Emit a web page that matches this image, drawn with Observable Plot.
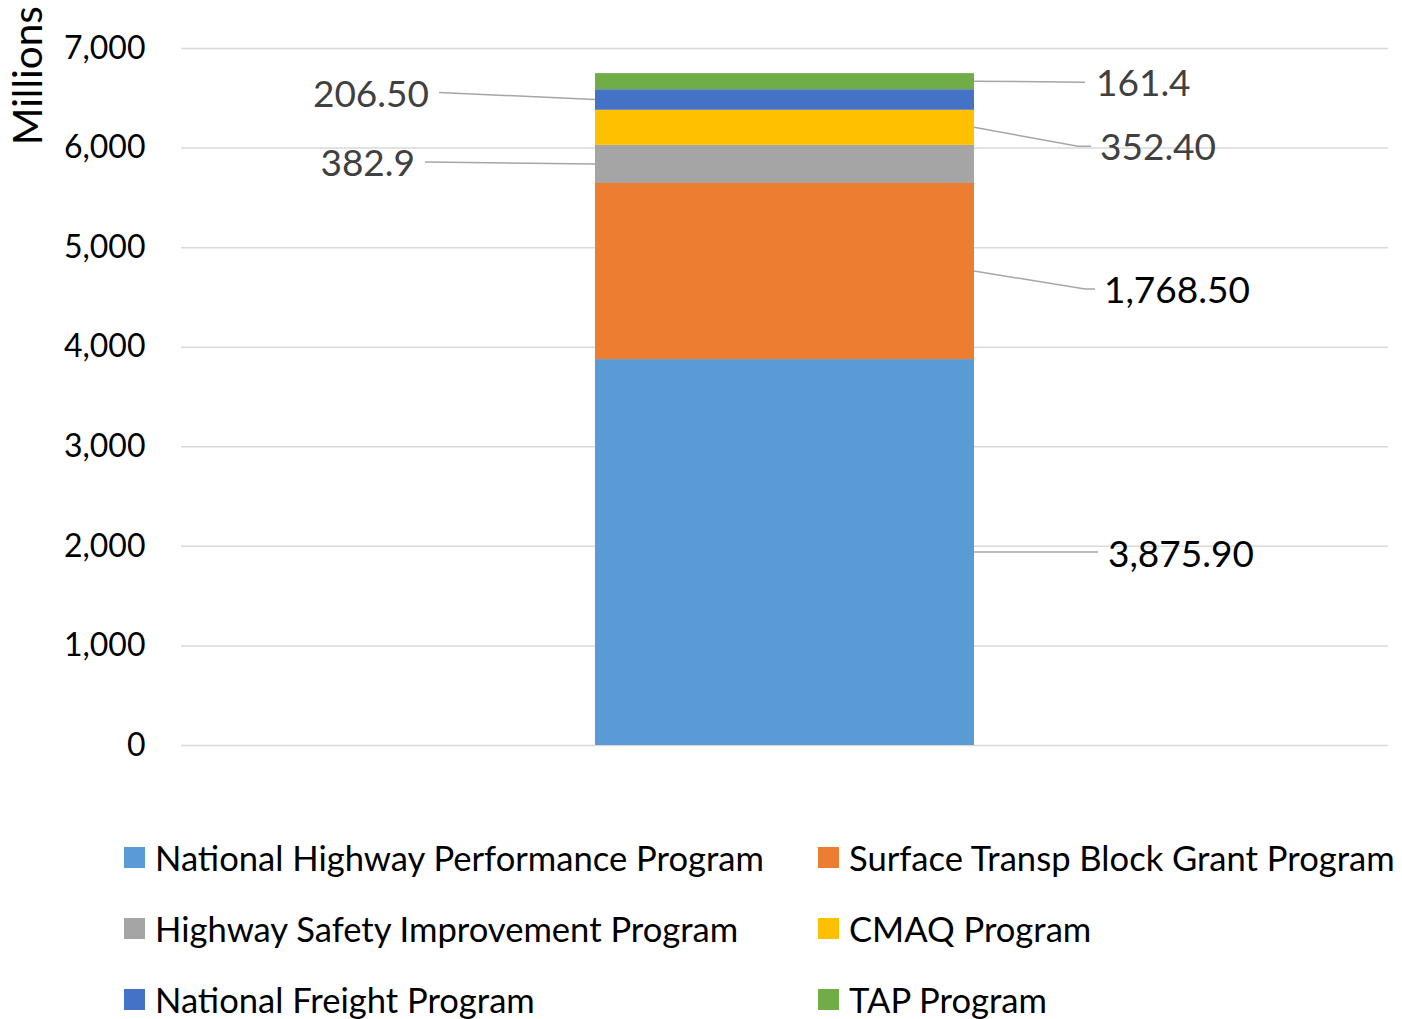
<!DOCTYPE html>
<html>
<head>
<meta charset="utf-8">
<script src="https://cdn.jsdelivr.net/npm/d3@7"></script>
<script src="https://cdn.jsdelivr.net/npm/@observablehq/plot@0.6"></script>
<style>
  html, body { margin: 0; padding: 0; background: #fff; overflow: hidden; }
  body { font-family: Lato, "Open Sans", sans-serif; }
  #wrap { position: relative; width: 1402px; height: 1019px; }
  .legend { display: grid; grid-template-columns: 694px auto; padding-left: 124px; margin-top: 52px; }
  .item { height: 71px; display: flex; align-items: center; font-size: 34.6px; color: #000; white-space: nowrap; }
  .sw { width: 21px; height: 21px; margin-right: 10px; flex: none; }
</style>
</head>
<body>
<div id="wrap"><div id="chart"></div><div class="legend" id="legend"></div></div>
<script>
// ---- data ----
const programs = [
  "National Highway Performance Program",
  "Surface Transp Block Grant Program",
  "Highway Safety Improvement Program",
  "CMAQ Program",
  "National Freight Program",
  "TAP Program"
];
const values = [3875.9, 1768.5, 382.9, 352.4, 206.5, 161.4];
const valueLabels = ["3,875.90", "1,768.50", "382.9", "352.40", "206.50", "161.4"];
const colors = ["#5b9bd5", "#ed7d31", "#a5a5a5", "#ffc000", "#4472c4", "#70ad47"];
const yTicks = [0, 1000, 2000, 3000, 4000, 5000, 6000, 7000];
const category = "Total";
const yTitle = "Millions";

// ---- label layout (leader lines), separate from data ----
const labelLayout = [
  {side: "right", reach: 124, elbow: 0,  dy: 0,  gap: 10, tdy: 2, color: "#000"},
  {side: "right", reach: 111, elbow: 10, dy: 18, gap: 9,  tdy: 1, color: "#000"},
  {side: "left",  reach: 170, elbow: 0,  dy: -2, gap: 10, tdy: 1, color: "#404040"},
  {side: "right", reach: 104, elbow: 13, dy: 19, gap: 9,  tdy: 1, color: "#404040"},
  {side: "left",  reach: 156, elbow: 0,  dy: -7, gap: 10, tdy: 2, color: "#404040"},
  {side: "right", reach: 111, elbow: 0,  dy: 1,  gap: 11, tdy: 1, color: "#404040"}
];

let acc = 0;
const rows = programs.map((p, i) => {
  const y1 = acc; acc += values[i];
  return {program: p, cat: category, y1, y2: acc, value: values[i], label: valueLabels[i]};
});

const plot = Plot.plot({
  width: 1402,
  height: 770,
  marginLeft: 181,
  marginRight: 14,
  marginTop: 48,
  marginBottom: 25,
  style: {fontFamily: "Lato, 'Open Sans', sans-serif", fontSize: "32px", color: "#000", background: "#fff"},
  x: {domain: [category], padding: 0.522, axis: null},
  y: {domain: [0, 7000], axis: null},
  color: {domain: programs, range: colors},
  marks: [
    Plot.gridY(yTicks, {stroke: "#d9d9d9", strokeOpacity: 1, strokeWidth: 1.5}),
    Plot.barY(rows, {x: "cat", y1: "y1", y2: "y2", fill: "program"}),
    Plot.axisY(yTicks, {tickSize: 0, tickPadding: 36, tickFormat: d3.format(","), fontSize: 32, fill: "#000", label: null})
  ]
});

document.getElementById("chart").appendChild(plot);

// leader lines and value labels, positioned via the plot's own scales
const xs = plot.scale("x"), ys = plot.scale("y");
const left = xs.apply(category), right = left + xs.bandwidth;
const svg = d3.select(plot);
const g = svg.append("g");
rows.forEach((r, i) => {
  const L = labelLayout[i];
  const s = L.side === "right" ? 1 : -1;
  const x0 = L.side === "right" ? right : left;
  const ym = ys.apply((r.y1 + r.y2) / 2);
  const pts = [[x0, ym], [x0 + s * L.reach, ym + L.dy], [x0 + s * (L.reach + L.elbow), ym + L.dy]];
  g.append("path")
    .attr("d", d3.line()(pts))
    .attr("fill", "none")
    .attr("stroke", "#a6a6a6")
    .attr("stroke-width", 1.5);
  g.append("text")
    .attr("x", x0 + s * (L.reach + L.elbow + L.gap))
    .attr("y", ym + L.dy + L.tdy)
    .attr("dy", "0.35em")
    .attr("text-anchor", L.side === "right" ? "start" : "end")
    .attr("font-size", 37)
    .attr("fill", L.color)
    .text(r.label);
});

// y axis title
svg.append("text")
  .attr("transform", `translate(28, ${ys.apply(6722)}) rotate(-90)`)
  .attr("text-anchor", "middle")
  .attr("dy", "0.35em")
  .attr("font-size", 40.5)
  .attr("fill", "#000")
  .text(yTitle);

// legend
const legend = d3.select("#legend");
programs.forEach((p, i) => {
  const it = legend.append("div").attr("class", "item");
  it.append("div").attr("class", "sw").style("background", colors[i]);
  it.append("span").text(p);
});
</script>
</body>
</html>
